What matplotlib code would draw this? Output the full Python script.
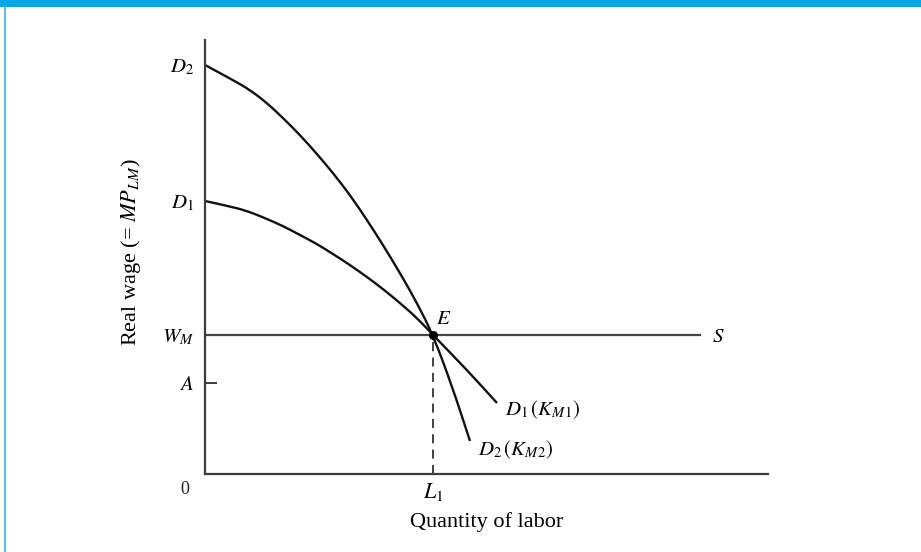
import matplotlib
matplotlib.use("Agg")
import matplotlib.pyplot as plt
from matplotlib.patches import Rectangle, PathPatch
from matplotlib.path import Path

# curve readings (x = quantity of labor, y = real wage), origin at axes corner
d2_x = [0, 28, 45, 62, 78, 95, 112, 128, 145, 162, 178, 195, 212, 228, 247, 265]
d2_y = [409, 394, 384, 371, 356, 339, 320, 301, 279, 254, 229, 201, 171, 139, 88, 33]
d1_x = [0, 28, 45, 62, 78, 95, 112, 128, 145, 162, 178, 195, 212, 228, 262, 292]
d1_y = [273, 267, 262, 255, 248, 239, 230, 220, 209, 197, 185, 171, 156, 139, 104, 71]

wage_m = 139     # W_M, supply line level
level_a = 91     # A
labor_1 = 228    # L_1
s_end = 495      # end of S line

y_ticks = [level_a, wage_m, d1_y[0], d2_y[0]]
y_labels = ["$A$", "$W_M$", "$D_1$", "$D_2$"]

plt.rcParams["font.family"] = "Liberation Serif"
plt.rcParams["mathtext.fontset"] = "stix"


def smooth_curve(xs, ys):
    # quadratic bezier path using the readings as control points
    verts = [(xs[0], ys[0])]
    codes = [Path.MOVETO]
    for i in range(1, len(xs) - 1):
        verts.append((xs[i], ys[i]))
        verts.append(((xs[i] + xs[i + 1]) / 2, (ys[i] + ys[i + 1]) / 2))
        codes += [Path.CURVE3, Path.CURVE3]
    verts.append((xs[-1], ys[-1]))
    codes.append(Path.LINETO)
    return PathPatch(Path(verts, codes), fill=False, edgecolor="#111111",
                     lw=1.7, capstyle="butt")


W, H = 921, 552
fig = plt.figure(figsize=(W / 100, H / 100), dpi=100)
ax = fig.add_axes([205 / W, (H - 474) / H, 563 / W, 434 / H])
ax.set_xlim(0, 563)
ax.set_ylim(0, 434)

axis_col = "#3c3c3c"
for side in ["top", "right"]:
    ax.spines[side].set_visible(False)
for side in ["left", "bottom"]:
    ax.spines[side].set_color(axis_col)
    ax.spines[side].set_linewidth(1.6)

ax.add_patch(smooth_curve(d2_x, d2_y))
ax.add_patch(smooth_curve(d1_x, d1_y))
ax.plot([0, s_end], [wage_m, wage_m], color="#444444", lw=1.6)
ax.plot([labor_1, labor_1], [0, wage_m], color="#333333", lw=1.3, ls=(0, (5, 3.5)))
ax.plot([labor_1], [wage_m], "o", color="black", ms=5.5)

ax.set_yticks(y_ticks)
ax.set_yticklabels(y_labels, fontsize=15)
ax.tick_params(axis="y", direction="in", length=8.5, width=1.4, color=axis_col, pad=8)
for t in ax.yaxis.get_major_ticks()[1:]:
    t.tick1line.set_visible(False)
ax.set_xticks([labor_1])
ax.set_xticklabels(["$L_1$"], fontsize=16)
ax.tick_params(axis="x", length=0, pad=5)

ax.text(-20, -16, "0", fontsize=13, ha="center", va="center", color="#222222")
ax.text(labor_1 + 11, wage_m + 16, "$E$", fontsize=15, ha="center", va="center")
ax.text(s_end + 12, wage_m - 2, "$S$", fontsize=15, ha="left", va="center")
ax.text(d1_x[-1] + 8, d1_y[-1] - 7, "$D_1\\,(K_{M1})$", fontsize=15, ha="left", va="center")
ax.text(d2_x[-1] + 8, d2_y[-1] - 9, "$D_2\\,(K_{M2})$", fontsize=15, ha="left", va="center")

ax.set_xlabel("Quantity of labor", fontsize=16)
ax.xaxis.set_label_coords((487 - 205) / 563, -(512 - 474) / 434)
ax.set_ylabel("Real wage (= $MP_{LM}$)", fontsize=16)
ax.yaxis.set_label_coords(-(205 - 143) / 563, (474 - 252) / 434)

# page frame: blue band on top and thin line at left
fig.add_artist(Rectangle((0, 1 - 7 / H), 1, 7 / H, transform=fig.transFigure,
                         color="#00a9e6", lw=0))
fig.add_artist(Rectangle((4 / W, 0), 2 / W, 1 - 7 / H, transform=fig.transFigure,
                         color="#4cc3ec", lw=0))

fig.savefig("out.png", dpi=100)
